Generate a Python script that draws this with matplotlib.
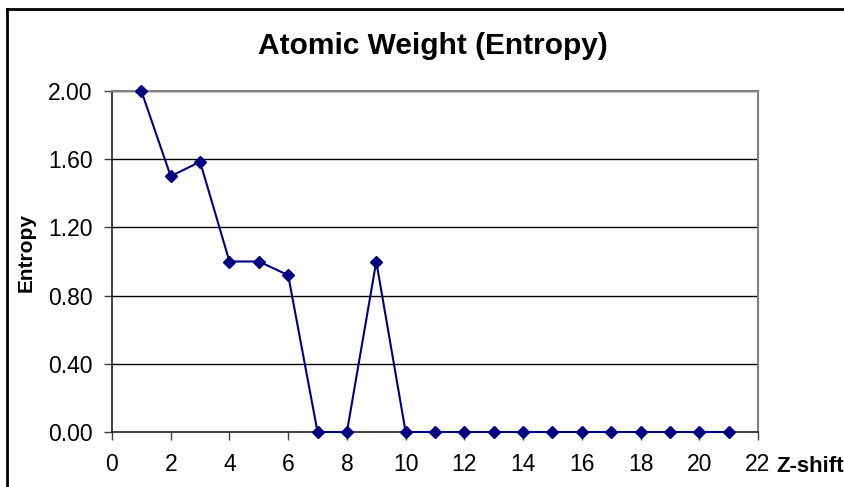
import matplotlib.pyplot as plt
from matplotlib.lines import Line2D
import numpy as np

plt.rcParams['font.family'] = ['Liberation Sans', 'DejaVu Sans']

# entropy per z-shift
zshift = list(range(1, 22))
entropy = [2.00, 1.50, 1.585, 1.00, 1.00, 0.92, 0.00, 0.00, 1.00, 0.00,
           0.00, 0.00, 0.00, 0.00, 0.00, 0.00, 0.00, 0.00, 0.00, 0.00, 0.00]
xticks = list(range(0, 23, 2))
yticks = [0.0, 0.4, 0.8, 1.2, 1.6, 2.0]

fig = plt.figure(figsize=(8.45, 4.87), dpi=100)
ax = fig.add_axes([112/845, 1-432/487, 646/845, 341/487])

# outer chart frame (only top and left show)
fig.add_artist(Line2D([7/845, 7/845], [0, 1-9/487], color='black', lw=2,
                      transform=fig.transFigure))
fig.add_artist(Line2D([7/845, 1], [1-9/487, 1-9/487], color='black', lw=2,
                      transform=fig.transFigure))

for y in yticks[1:]:
    ax.axhline(y, color='black', lw=1, zorder=1)

ax.plot(zshift, entropy, color='#000080', lw=1.5, marker='D', markersize=6,
        zorder=3, clip_on=False)

ax.set_xlim(0, 22)
ax.set_ylim(0, 2.0)
ax.set_xticks(xticks)
ax.set_xticklabels([str(x) for x in xticks])
ax.set_yticks(yticks)
ax.set_yticklabels(['%.2f' % y for y in yticks])
ax.tick_params(axis='both', direction='out', length=6, width=1, labelsize=16.5,
               color='#404040')
ax.tick_params(axis='x', pad=9)
ax.tick_params(axis='y', pad=8)

for side in ['top', 'right']:
    ax.spines[side].set_color('#808080')
    ax.spines[side].set_linewidth(1.5)
for side in ['left', 'bottom']:
    ax.spines[side].set_color('#202020')
    ax.spines[side].set_linewidth(1.2)

fig.text(433/845, 1-46/487, 'Atomic Weight (Entropy)', ha='center', va='center',
         fontsize=21.5, fontweight='bold')
fig.text(26/845, 1-253/487, 'Entropy', ha='center', va='center', rotation=90,
         fontsize=15, fontweight='bold')
fig.text(776/845, 1-466/487, 'Z-shift', ha='left', va='center',
         fontsize=16, fontweight='bold')

fig.savefig('out.png', dpi=100)
